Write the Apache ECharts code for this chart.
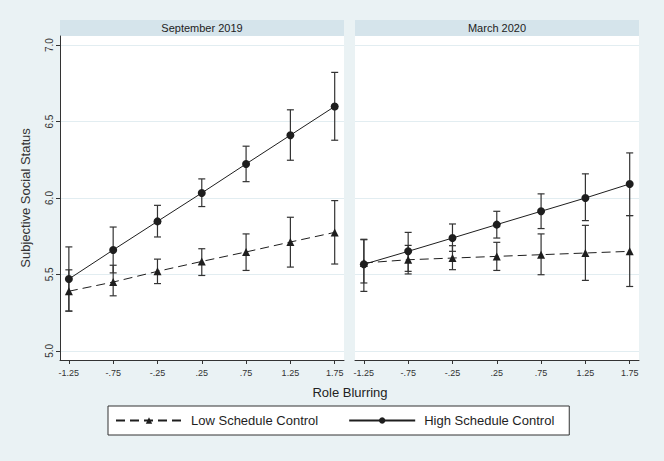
<!DOCTYPE html>
<html><head><meta charset="utf-8">
<script src="https://cdn.jsdelivr.net/npm/echarts@6/dist/echarts.min.js"></script>
<style>html,body{margin:0;padding:0;background:#eaf2f4;}#c{width:664px;height:461px;}</style>
</head><body><div id="c"></div>
<script>
const xTicks = [-1.25, -0.75, -0.25, 0.25, 0.75, 1.25, 1.75];
const xTickLabels = ['-1.25', '-.75', '-.25', '.25', '.75', '1.25', '1.75'];
const yTicks = [5.0, 5.5, 6.0, 6.5, 7.0];
const yTickLabels = ['5.0', '5.5', '6.0', '6.5', '7.0'];
const panels = ['September 2019', 'March 2020'];
const seriesNames = ['Low Schedule Control', 'High Schedule Control'];

const sepLow   = [5.39, 5.45, 5.52, 5.585, 5.647, 5.712, 5.775];
const sepLowLo = [5.26, 5.36, 5.44, 5.493, 5.526, 5.548, 5.568];
const sepLowHi = [5.53, 5.56, 5.60, 5.668, 5.765, 5.874, 5.983];
const sepHigh   = [5.47, 5.66, 5.847, 6.033, 6.223, 6.411, 6.599];
const sepHighLo = [5.26, 5.51, 5.745, 5.944, 6.107, 6.247, 6.378];
const sepHighHi = [5.68, 5.81, 5.952, 6.125, 6.339, 6.577, 6.822];

const marLow   = [5.575, 5.596, 5.607, 5.618, 5.629, 5.64, 5.651];
const marLowLo = [5.389, 5.503, 5.531, 5.526, 5.498, 5.461, 5.421];
const marLowHi = [5.73, 5.69, 5.688, 5.71, 5.765, 5.821, 5.885];
const marHigh   = [5.566, 5.651, 5.738, 5.826, 5.913, 6.0, 6.092];
const marHighLo = [5.444, 5.52, 5.651, 5.738, 5.80, 5.852, 5.885];
const marHighHi = [5.727, 5.775, 5.83, 5.913, 6.027, 6.158, 6.295];

const ink = '#1e1e1e';
const axisInk = '#333';

function pts(vals) { return xTicks.map((x, i) => [x, vals[i]]); }
function bars(lo, hi) { return xTicks.map((x, i) => [x, lo[i], hi[i]]); }

function errSeries(idx, lo, hi) {
  return {
    type: 'custom', xAxisIndex: idx, yAxisIndex: idx, silent: true, z: 2,
    data: bars(lo, hi),
    renderItem: function (params, api) {
      const x = api.value(0);
      const a = api.coord([x, api.value(1)]);
      const b = api.coord([x, api.value(2)]);
      const w = 3.5;
      const st = { stroke: axisInk, lineWidth: 1.2 };
      return { type: 'group', children: [
        { type: 'line', shape: { x1: a[0], y1: a[1], x2: b[0], y2: b[1] }, style: st },
        { type: 'line', shape: { x1: a[0] - w, y1: a[1], x2: a[0] + w, y2: a[1] }, style: st },
        { type: 'line', shape: { x1: b[0] - w, y1: b[1], x2: b[0] + w, y2: b[1] }, style: st }
      ]};
    }
  };
}
function lowSeries(idx, vals) {
  return { name: seriesNames[0], type: 'line', xAxisIndex: idx, yAxisIndex: idx, data: pts(vals),
    symbol: 'triangle', symbolSize: 8, z: 3,
    lineStyle: { color: ink, width: 1, type: [9, 5] }, itemStyle: { color: ink } };
}
function highSeries(idx, vals) {
  return { name: seriesNames[1], type: 'line', xAxisIndex: idx, yAxisIndex: idx, data: pts(vals),
    symbol: 'circle', symbolSize: 8, z: 3,
    lineStyle: { color: ink, width: 1, type: 'solid' }, itemStyle: { color: ink } };
}

const grids = [
  { left: 60, top: 36, width: 284, height: 324, show: true, backgroundColor: '#fff', borderWidth: 0 },
  { left: 355, top: 36, width: 284, height: 324, show: true, backgroundColor: '#fff', borderWidth: 0 }
];

function xAx(idx) {
  return { type: 'value', gridIndex: idx, min: -1.35, max: 1.855,
    axisLine: { show: true, onZero: false, lineStyle: { color: axisInk, width: 1 } },
    axisTick: { show: true, length: 4, customValues: xTicks, lineStyle: { color: axisInk } },
    axisLabel: { customValues: xTicks, color: axisInk, fontSize: 9, margin: 8, fontFamily: 'Liberation Sans',
      formatter: v => xTickLabels[xTicks.findIndex(t => Math.abs(t - v) < 1e-6)] },
    splitLine: { show: false } };
}
function yAx(idx) {
  const main = idx === 0;
  return { type: 'value', gridIndex: idx, min: 4.94, max: 7.06,
    name: main ? 'Subjective Social Status' : '', nameLocation: 'middle', nameGap: 28,
    nameTextStyle: { color: axisInk, fontSize: 13, fontFamily: 'Liberation Sans' },
    axisLine: { show: main, onZero: false, lineStyle: { color: axisInk, width: 1 } },
    axisTick: { show: main, length: 4, customValues: yTicks, lineStyle: { color: axisInk } },
    axisLabel: { show: main, customValues: yTicks, rotate: 90, color: axisInk, fontSize: 10, margin: 6,
      fontFamily: 'Liberation Sans',
      formatter: v => yTickLabels[yTicks.findIndex(t => Math.abs(t - v) < 1e-6)] },
    splitLine: { show: false } };
}
function gridLines(idx) {
  return { type: 'line', xAxisIndex: idx, yAxisIndex: idx, data: [], silent: true, z: 0,
    markLine: { silent: true, symbol: 'none', z: 0, animation: false, label: { show: false },
      lineStyle: { color: '#e2edf1', width: 1, type: 'solid' },
      emphasis: { disabled: true },
      data: yTicks.map(v => ({ yAxis: v })) } };
}

const chart = echarts.init(document.getElementById('c'), null, { renderer: 'svg' });
chart.setOption({
  backgroundColor: '#eaf2f4',
  animation: false,
  grid: grids,
  xAxis: [xAx(0), xAx(1)],
  yAxis: [yAx(0), yAx(1)],
  legend: {
    data: [
      { name: seriesNames[0] },
      { name: seriesNames[1] }
    ],
    left: 108, top: 406, itemWidth: 66, itemHeight: 8, itemGap: 30,
    padding: [8, 15, 8, 7],
    backgroundColor: '#fff', borderColor: '#333', borderWidth: 1, borderRadius: 0,
    textStyle: { color: ink, fontSize: 13, fontFamily: 'Liberation Sans', padding: [0, 0, 0, 4] }
  },
  graphic: [
    { type: 'rect', shape: { x: 60, y: 20, width: 284, height: 16 }, style: { fill: '#d5e4eb' }, silent: true },
    { type: 'rect', shape: { x: 355, y: 20, width: 284, height: 16 }, style: { fill: '#d5e4eb' }, silent: true },
    { type: 'text', x: 202, y: 28, style: { text: panels[0], fill: '#222', fontSize: 11, fontFamily: 'Liberation Sans', textAlign: 'center', textVerticalAlign: 'middle' }, silent: true },
    { type: 'text', x: 497, y: 28, style: { text: panels[1], fill: '#222', fontSize: 11, fontFamily: 'Liberation Sans', textAlign: 'center', textVerticalAlign: 'middle' }, silent: true },
    { type: 'text', x: 350, y: 392, style: { text: 'Role Blurring', fill: '#222', fontSize: 13, fontFamily: 'Liberation Sans', textAlign: 'center', textVerticalAlign: 'middle' }, silent: true }
  ],
  series: [
    gridLines(0), gridLines(1),
    errSeries(0, sepLowLo, sepLowHi), errSeries(0, sepHighLo, sepHighHi),
    errSeries(1, marLowLo, marLowHi), errSeries(1, marHighLo, marHighHi),
    lowSeries(0, sepLow), highSeries(0, sepHigh),
    lowSeries(1, marLow), highSeries(1, marHigh)
  ]
});
</script></body></html>
